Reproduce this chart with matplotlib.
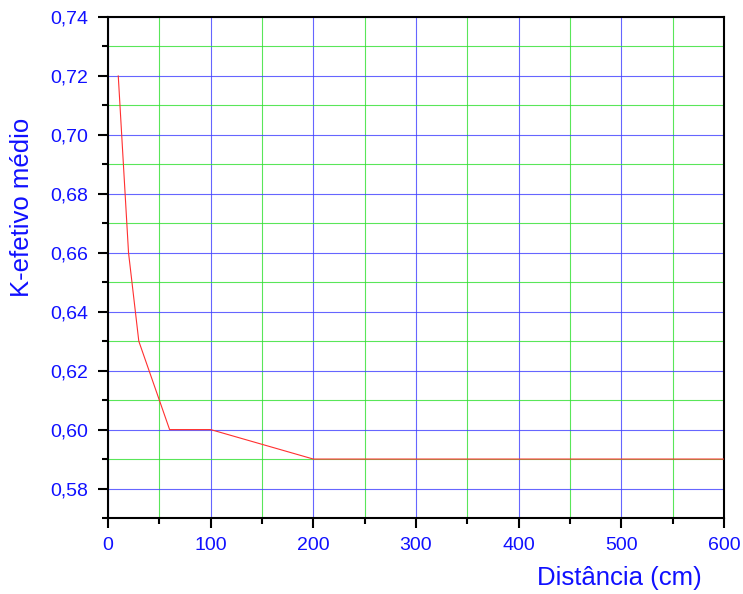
import matplotlib
matplotlib.use("Agg")
import matplotlib.pyplot as plt
from matplotlib.ticker import MultipleLocator, FuncFormatter

plt.rcParams['font.family'] = ['Liberation Sans', 'DejaVu Sans']

distancia = [10, 20, 30, 60, 100, 200, 600]
k_efetivo = [0.72, 0.66, 0.63, 0.60, 0.60, 0.59, 0.59]

fig = plt.figure(figsize=(7.43, 5.94), dpi=100)
ax = fig.add_axes([108/743, 1-518/594, (724-108)/743, (518-17)/594])

ax.plot(distancia, k_efetivo, color='#ff3030', lw=0.8, zorder=3)

ax.set_xlim(0, 600)
ax.set_ylim(0.57, 0.74)
ax.xaxis.set_major_locator(MultipleLocator(100))
ax.xaxis.set_minor_locator(MultipleLocator(50))
ax.yaxis.set_major_locator(MultipleLocator(0.02))
ax.yaxis.set_minor_locator(MultipleLocator(0.01))
ax.yaxis.set_major_formatter(FuncFormatter(lambda v, p: f"{v:.2f}".replace('.', ',')))

ax.grid(which='major', color='#4040ff', lw=0.8, alpha=0.8)
ax.grid(which='minor', color='#30e030', lw=0.8, alpha=0.8)
ax.set_axisbelow(True)

for s in ax.spines.values():
    s.set_linewidth(1.5)
    s.set_color('black')

ax.tick_params(which='major', direction='out', length=7, width=1.5, colors='black',
               labelcolor='#1010ff', labelsize=14, pad=7)
ax.tick_params(which='minor', direction='out', length=4, width=1.5, colors='black')

fig.text(702/743, 1-578/594, 'Distância (cm)', ha='right', va='center',
         fontsize=18.5, color='#1010ff')
fig.text(22/743, 1-207/594, 'K-efetivo médio', ha='center', va='center',
         rotation=90, fontsize=18.5, color='#1010ff')

fig.savefig('out.png', dpi=100)
